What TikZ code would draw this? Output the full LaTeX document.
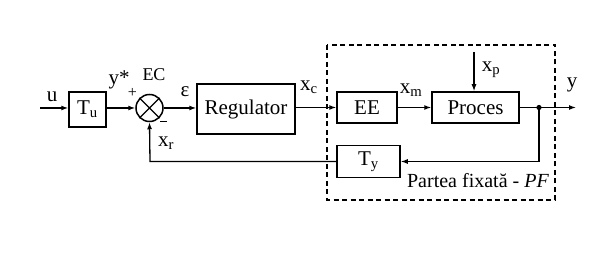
\documentclass[tikz,border=0pt]{standalone}
\usepackage{fontspec}
\setmainfont{Liberation Serif}
\usetikzlibrary{arrows.meta}
\begin{document}
\begin{tikzpicture}[x=1pt,y=-1pt,
  font=\fontsize{21}{25}\selectfont,
  block/.style={draw,line width=1.5pt,inner sep=0pt,anchor=center},
  sig/.style={line width=1.3pt,-{Latex[length=7pt,width=5pt]}},
  lbl/.style={inner sep=0pt,anchor=center}]
\useasboundingbox (0,0) rectangle (613,256);
% fixed part frame
\draw[line width=1.1pt,dash pattern=on 5pt off 3.5pt] (327,45) rectangle (555,200);
% blocks
\node[block,minimum width=37pt,minimum height=35pt] (tu) at (87.5,109.5) {T\textsubscript{u}};
\node[draw,circle,line width=1.5pt,minimum size=27pt,inner sep=0pt] (ec) at (149.5,108) {};
\draw[line width=1.3pt] (ec.45) -- (ec.225) (ec.135) -- (ec.315);
\node[block,minimum width=98pt,minimum height=50pt] (reg) at (246,109) {Regulator};
\node[block,minimum width=60pt,minimum height=31pt] (ee) at (367,107.5) {EE};
\node[block,minimum width=87pt,minimum height=31pt] (pr) at (475.5,107.5) {Proces};
\node[block,minimum width=63pt,minimum height=32pt] (ty) at (368.5,161.5) {T\textsubscript{y}};
% free ends and branch point
\coordinate (uin) at (40,108);
\coordinate (xpin) at (474,52);
\coordinate (yout) at (576,107.5);
\coordinate (br) at (539,107.5);
\coordinate (fb1) at (539,161.5);
\coordinate (fb2) at (150,161.5);
% connectors
\draw[sig] (uin) -- (uin -| tu.west);
\draw[sig] (tu.east |- ec) -- (ec.west);
\draw[sig] (ec.east) -- (ec.east -| reg.west);
\draw[sig] (reg.east |- ee) -- (ee.west);
\draw[sig] (ee.east) -- (pr.west);
\draw[sig] (xpin) -- (xpin |- pr.north);
\draw[sig] (pr.east) -- (yout);
\fill (br) circle (2.6pt);
\draw[sig] (br) -- (fb1) -- (ty.east);
\draw[sig] (ty.west) -- (fb2) -- (ec.south);
% labels
\node[lbl] (lu) at (52,97) {u};
\node[lbl] (lys) at (119,80) {y*};
\node[lbl,font=\fontsize{16}{18}\selectfont] (lplus) at (132.5,93) {+};
\node[lbl,font=\fontsize{18}{21}\selectfont] (lec) at (154,75) {EC};
\draw[line width=1pt] (160,122) -- (167,122);
\node[lbl] (leps) at (185,92) {ε};
\node[lbl] (lxr) at (166,143) {x\textsubscript{r}};
\node[lbl] (lxc) at (309,87) {x\textsubscript{c}};
\node[lbl] (lxm) at (411,90) {x\textsubscript{m}};
\node[lbl] (lxp) at (491,70) {x\textsubscript{p}};
\node[lbl] (ly) at (572,85) {y};
\node[lbl,font=\fontsize{20}{24}\selectfont] (lpf) at (478,181) {Partea fixată - \textit{PF}};
\end{tikzpicture}
\end{document}
